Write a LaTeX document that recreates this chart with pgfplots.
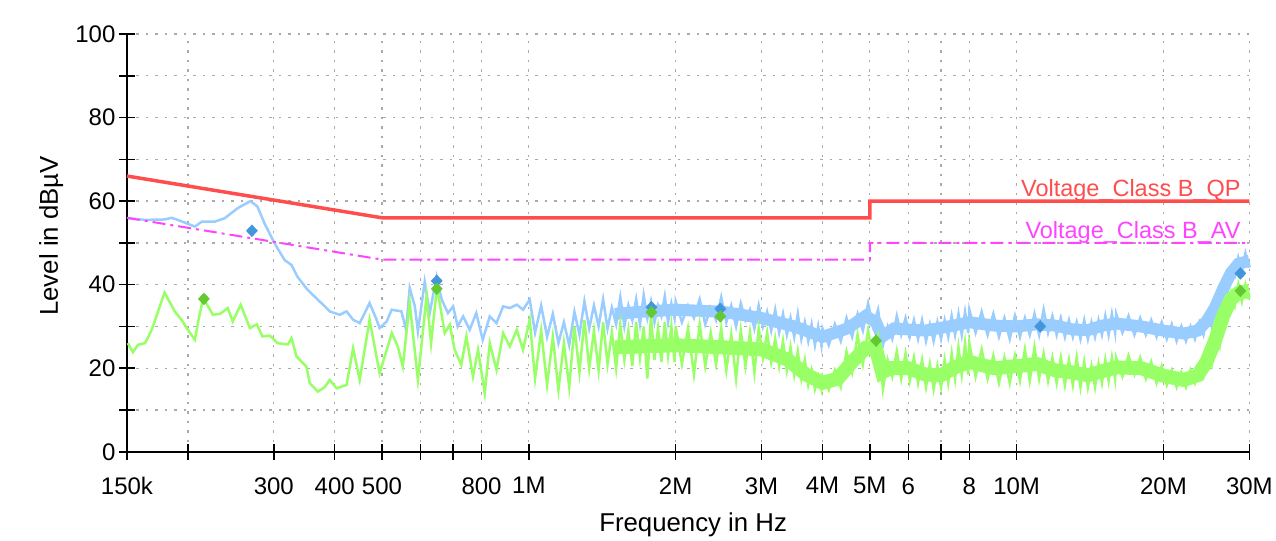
\documentclass[border=0pt]{standalone}
\usepackage{fontspec}
\setmainfont{Liberation Sans}
\usepackage{pgfplots}
\pgfplotsset{compat=1.18}
\definecolor{qpblue}{RGB}{153,204,255}
\definecolor{avgreen}{RGB}{153,255,102}
\definecolor{limred}{RGB}{255,77,77}
\definecolor{limmag}{RGB}{255,68,255}
\definecolor{mkblue}{RGB}{66,150,220}
\definecolor{mkgreen}{RGB}{100,200,50}
\definecolor{gridgray}{RGB}{170,170,170}
\begin{document}
\begin{tikzpicture}
\begin{axis}[name=ax,
 scale only axis, width=1123bp, height=418bp,
 xmode=log, xmin=0.15, xmax=30, ymin=0, ymax=100,
 axis x line=bottom, axis y line=left,
 axis line style={-, line width=2bp, black},
 xtick={0.15,0.2,0.3,0.4,0.5,0.6,0.7,0.8,1,2,3,4,5,6,7,8,10,20,30},
 xticklabels={150k,,300,400,500,,,800,1M,2M,3M,4M,5M,6,,8,10M,20M,30M},
 ytick={0,20,...,100}, minor ytick={10,30,...,90},
 tick align=center, major tick length=16bp, minor tick length=16bp,
 every tick/.style={black, line width=1.5bp},
 grid=both,
 major grid style={gridgray, dash pattern=on 2.5bp off 7bp, line width=1.3bp},
 minor grid style={gridgray, dash pattern=on 2.5bp off 7bp, line width=1.3bp},
 /pgf/number format/assume math mode=true,
 ticklabel style={font=\fontsize{24bp}{28bp}\selectfont},
 xticklabel style={yshift=-14bp},
 xlabel={Frequency in Hz}, ylabel={Level in dBµV},
 label style={font=\fontsize{25.8bp}{30bp}\selectfont},
 xlabel style={at={(axis description cs:0.5,0)}, anchor=base, yshift=-80bp, xshift=5bp},
 ylabel style={at={(axis description cs:0,0.5)}, anchor=base, xshift=7bp, yshift=69bp},
 clip=false,
]
% QP trace (light blue)
\addplot[qpblue, line width=12bp] table {
1.5 33
1.7 33.5
2.0 34
2.5 33.5
3.0 32
3.5 30
4.0 27.5
4.5 29.5
4.9 32.5
5.15 31
5.3 27.5
5.6 29.5
6.5 29
7.5 30.3
8.0 31
9.0 30.2
10 30
11 30.5
12 30.2
13 29.3
14 29.1
15 30.2
16 30.7
18 30
20 29.0
22 28.3
23.5 29
24.5 31.2
25.5 34.5
26.5 39
27.5 42.8
28.5 45
30 45.7
};
\addplot[qpblue, line width=2.5bp] table {
0.1507 55.9
0.1634 55.5
0.1792 55.6
0.1853 56.0
0.1926 55.3
0.2067 53.9
0.2138 55.1
0.2272 55.1
0.2380 55.9
0.2530 58.3
0.2687 60.0
0.2777 58.7
0.2871 54.7
0.3011 49.9
0.3157 45.9
0.3262 44.7
0.3355 41.9
0.3517 38.8
0.3694 36.4
0.3817 34.8
0.3907 33.6
0.4096 32.8
0.4230 33.6
0.4363 31.6
0.4501 30.8
0.4716 35.6
0.4875 31.6
0.4945 29.6
0.5114 31.2
0.5233 34.0
0.5480 33.6
0.5603 29.2
0.5699 39.2
0.5840 34.8
0.5924 28.8
0.6118 40.7
0.6264 33.2
0.6470 41.9
0.6630 36.4
0.6827 33.2
0.6995 34.8
0.7148 30.0
0.7334 32.4
0.7566 29.2
0.7803 33.2
0.8045 26.8
0.8316 32.4
0.8586 30.8
0.8858 34.8
0.9140 34.4
0.9446 35.2
0.9730 34.0
1.0041 36.4
1.03 28.5
1.06 35.0
1.09 27.5
1.12 33.0
1.15 26.0
1.18 31.0
1.21 25.5
1.24 33.5
1.27 28.0
1.30 36.0
1.33 29.5
1.36 35.0
1.39 30.0
1.42 36.5
1.45 29.5
1.48 34.5
1.51 30.5
1.54 37.0
1.57 30.0
1.60 35.0
1.63 31.5
1.66 36.5
1.69 30.5
1.72 37.5
1.75 32.0
1.78 36.0
1.81 31.0
1.84 35.0
1.87 32.5
1.90 37.2
1.93 31.0
1.96 35.5
1.99 32.0
2.00 36.0
2.06 31.0
2.12 35.0
2.18 32.0
2.24 36.5
2.30 30.5
2.36 34.5
2.42 31.5
2.48 37.0
2.54 31.0
2.60 35.0
2.66 30.0
2.72 35.5
2.78 31.5
2.84 34.0
2.90 29.5
2.96 35.0
3.02 30.0
3.08 33.5
3.14 29.0
3.20 34.0
3.26 28.5
3.32 33.0
3.38 28.0
3.44 32.0
3.50 27.5
3.56 33.0
3.62 27.0
3.68 31.0
3.74 26.5
3.80 30.5
3.86 25.5
3.92 30.0
3.98 25.5
4.00 29.5
4.12 25.5
4.24 30.5
4.36 26.5
4.48 32.0
4.60 27.5
4.72 33.0
4.84 29.0
4.96 35.5
5.08 30.0
5.20 34.0
5.32 25.5
5.44 30.0
5.56 27.0
5.68 32.5
5.80 28.0
5.92 32.0
6.04 27.5
6.16 31.5
6.28 27.0
6.40 31.5
6.52 26.5
6.64 30.5
6.76 26.5
6.88 31.0
7.00 27.0
7.12 31.5
7.24 27.5
7.36 32.5
7.48 28.0
7.60 33.0
7.72 28.0
7.84 33.5
7.96 28.5
8.00 34.0
8.24 28.5
8.48 33.5
8.72 28.0
8.96 33.0
9.20 27.5
9.44 32.0
9.68 27.0
9.92 32.5
10.16 27.5
10.40 32.0
10.64 28.0
10.88 33.0
11.12 28.0
11.36 34.0
11.60 28.5
11.84 32.5
12.08 28.0
12.32 32.0
12.56 27.5
12.80 31.5
13.04 27.5
13.28 31.0
13.52 27.0
13.76 31.5
14.00 27.0
14.24 31.0
14.48 27.5
14.72 31.5
14.96 28.0
15.20 32.5
15.44 28.0
15.68 33.0
15.92 28.5
16.00 33.0
16.48 28.5
16.96 32.5
17.44 28.0
17.92 32.0
18.40 28.0
18.88 31.5
19.36 27.5
19.84 31.0
20.32 27.0
20.80 30.5
21.28 26.5
21.76 30.0
22.24 26.5
22.72 30.0
23.20 27.0
23.68 31.0
24.16 28.0
24.64 33.0
25.12 30.0
25.60 36.0
26.08 33.0
26.56 40.0
27.04 38.0
27.52 43.5
28.00 42.0
28.48 46.5
28.96 43.5
29.44 47.5
29.92 44.0
};
% AV trace (light green)
\addplot[avgreen, line width=14bp] table {
1.5 25
2 25.5
2.5 25
3 24.5
3.4 22
3.7 18.5
4.0 16.5
4.3 17.5
4.6 21.5
4.9 24.8
5.15 24.5
5.3 19
5.5 20
6 20
6.5 18.5
7 18.3
7.5 20.3
8 21.5
9 20
10 20.5
11 21
12 19.5
13 19
14 18.3
15 19.3
16 20.2
18 20
20 18.2
22 17.2
23.5 18.3
24.5 21.5
25.5 26.5
26.5 32.5
27.5 36.5
28.5 38
30 38.5
};
\addplot[avgreen, line width=2.5bp] table {
0.1507 26.0
0.1543 23.8
0.1580 25.6
0.1634 26.0
0.1687 29.2
0.1733 33.2
0.1792 38.1
0.1880 33.6
0.1944 31.5
0.2000 29.2
0.2067 26.8
0.2107 32.0
0.2151 36.8
0.2250 32.8
0.2327 33.0
0.2414 34.4
0.2472 31.2
0.2566 35.2
0.2680 29.6
0.2770 30.5
0.2844 27.6
0.2945 27.8
0.3054 26.0
0.3207 25.7
0.3262 27.2
0.3340 22.8
0.3501 20.4
0.3557 16.4
0.3694 14.4
0.3817 15.5
0.3907 17.2
0.4036 15.2
0.4230 16.0
0.4363 24.8
0.4501 17.2
0.4716 31.6
0.4945 18.8
0.5237 28.4
0.5388 25.2
0.5516 20.4
0.5699 35.6
0.5924 17.2
0.6170 37.2
0.6305 26.0
0.6482 39.5
0.6725 28.4
0.6885 30.4
0.7047 24.4
0.7270 20.8
0.7448 27.6
0.7683 18.0
0.7870 24.4
0.8121 14.0
0.8316 26.0
0.8586 19.6
0.8858 28.4
0.9140 25.2
0.9446 29.2
0.9730 24.4
1.0041 31.6
1.03 17.5
1.06 29.0
1.09 16.0
1.12 27.5
1.15 14.8
1.18 26.0
1.21 15.5
1.24 30.0
1.27 19.0
1.30 31.5
1.33 20.0
1.36 29.0
1.39 19.5
1.42 31.0
1.45 21.0
1.48 28.5
1.51 20.0
1.54 30.5
1.57 22.0
1.60 29.0
1.63 20.5
1.66 31.0
1.69 22.5
1.72 30.0
1.75 17.5
1.78 32.5
1.81 22.0
1.84 29.5
1.87 21.5
1.90 31.0
1.93 23.0
1.96 30.0
1.99 21.5
2.00 30.0
2.06 21.0
2.12 29.5
2.18 18.5
2.24 30.5
2.30 20.5
2.36 28.5
2.42 21.0
2.48 29.5
2.54 19.5
2.60 28.0
2.66 17.5
2.72 29.0
2.78 20.5
2.84 28.5
2.90 19.0
2.96 29.5
3.02 22.5
3.08 28.5
3.14 21.5
3.20 27.0
3.26 20.5
3.32 26.5
3.38 19.5
3.44 25.0
3.50 18.5
3.56 24.0
3.62 17.5
3.68 22.0
3.74 16.0
3.80 19.5
3.86 15.0
3.92 18.0
3.98 15.0
4.00 18.0
4.12 14.8
4.24 19.5
4.36 15.5
4.48 24.0
4.60 19.0
4.72 28.0
4.84 21.0
4.96 29.0
5.08 22.5
5.20 27.5
5.32 15.0
5.44 22.0
5.56 18.0
5.68 24.0
5.80 17.5
5.92 23.5
6.04 17.0
6.16 22.5
6.28 16.5
6.40 22.0
6.52 15.5
6.64 21.0
6.76 15.0
6.88 20.5
7.00 15.5
7.12 22.0
7.24 16.5
7.36 23.5
7.48 17.5
7.60 25.0
7.72 18.5
7.84 26.0
7.96 18.5
8.00 26.0
8.24 18.0
8.48 24.5
8.72 17.5
8.96 23.0
9.20 16.5
9.44 22.5
9.68 16.5
9.92 23.0
10.16 17.0
10.40 24.5
10.64 17.0
10.88 25.0
11.12 17.5
11.36 23.5
11.60 17.0
11.84 22.5
12.08 16.5
12.32 22.5
12.56 16.0
12.80 22.0
13.04 16.0
13.28 22.5
13.52 15.5
13.76 21.5
14.00 15.5
14.24 20.5
14.48 15.5
14.72 21.0
14.96 16.5
15.20 22.0
15.44 17.0
15.68 22.5
15.92 17.5
16.00 22.5
16.48 18.0
16.96 23.0
17.44 18.5
17.92 22.5
18.40 17.5
18.88 21.5
19.36 16.5
19.84 20.5
20.32 16.0
20.80 19.5
21.28 15.5
21.76 19.0
22.24 15.5
22.72 19.5
23.20 16.5
23.68 20.5
24.16 18.0
24.64 24.0
25.12 21.0
25.60 29.5
26.08 25.5
26.56 34.0
27.04 31.5
27.52 38.0
28.00 35.0
28.48 40.0
28.96 36.0
29.44 40.0
29.92 36.5
};
% limit lines
\addplot[limred, line width=3.5bp] table {
0.15 66
0.5 56
5 56
5 60
30 60
};
\addplot[limmag, line width=2bp, dash pattern=on 13bp off 5bp on 3bp off 5bp] table {
0.15 56
0.5 46
5 46
5 50
30 50
};
% measured points
\addplot[only marks, mark=diamond*, mark size=6bp, mark options={xscale=1.25, fill=mkblue, draw=mkblue, line width=0.3bp}] table {
0.2706 52.9
0.6475 40.9
1.784 34.6
2.469 34.2
11.18 30.0
28.76 42.7
};
\addplot[only marks, mark=diamond*, mark size=6bp, mark options={xscale=1.25, fill=mkgreen, draw=mkgreen, line width=0.3bp}] table {
0.2157 36.6
0.6475 39.0
1.784 33.4
2.469 32.4
5.15 26.6
28.76 38.5
};
\node[anchor=base east, text=limred, font=\fontsize{23.5bp}{28bp}\selectfont, inner sep=0pt] at (axis cs:28.8,61.1) {Voltage\_Class B\_QP};
\node[anchor=base east, text=limmag, font=\fontsize{23.5bp}{28bp}\selectfont, inner sep=0pt] at (axis cs:28.8,51.1) {Voltage\_Class B\_AV};
\end{axis}
\path ([shift={(-127bp,-85bp)}]ax.south west) rectangle ([shift={(26bp,34bp)}]ax.north east);
\end{tikzpicture}
\end{document}
